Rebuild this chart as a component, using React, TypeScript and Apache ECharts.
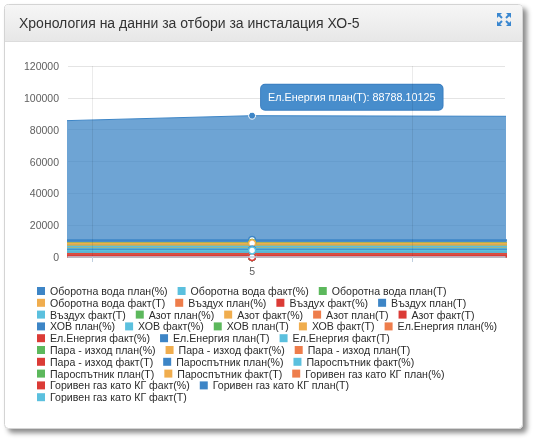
import React, { useEffect, useRef } from "react";
import * as echarts from "echarts";

// x positions of the data points (only "5" is labelled on the axis)
const xPositions = [4, 5, 6];
const labelledX = [5];
const tickX = [4.5, 5.5];

const seriesNames = [
  "Оборотна вода план(%)", "Оборотна вода факт(%)", "Оборотна вода план(Т)",
  "Оборотна вода факт(Т)", "Въздух план(%)", "Въздух факт(%)", "Въздух план(Т)",
  "Въздух факт(Т)", "Азот план(%)", "Азот факт(%)", "Азот план(Т)", "Азот факт(Т)",
  "ХОВ план(%)", "ХОВ факт(%)", "ХОВ план(Т)", "ХОВ факт(Т)", "Ел.Енергия план(%)",
  "Ел.Енергия факт(%)", "Ел.Енергия план(Т)", "Ел.Енергия факт(Т)",
  "Пара - изход план(%)", "Пара - изход факт(%)", "Пара - изход план(Т)",
  "Пара - изход факт(Т)", "Пароспътник план(%)", "Пароспътник факт(%)",
  "Пароспътник план(Т)", "Пароспътник факт(Т)", "Горивен газ като КГ план(%)",
  "Горивен газ като КГ факт(%)", "Горивен газ като КГ план(Т)", "Горивен газ като КГ факт(Т)",
];

// values at x = 4, 5, 6 for each series
const seriesValues: number[][] = [
  [98, 98, 98], [96, 96, 96], [8800, 8800, 8800],
  [8600, 8600, 8600], [100, 100, 100], [97, 97, 97], [10700, 10700, 10700],
  [6600, 6600, 6600], [100, 100, 100], [95, 95, 95], [900, 900, 900], [850, 850, 850],
  [100, 100, 100], [94, 94, 94], [8700, 8700, 8700], [8500, 8500, 8500], [100, 100, 100],
  [93, 93, 93], [83400, 88788.10125, 88300], [5300, 5300, 5300],
  [100, 100, 100], [97, 97, 97], [2000, 2000, 2000],
  [1900, 1900, 1900], [100, 100, 100], [96, 96, 96],
  [8800, 8800, 8800], [8600, 8600, 8600], [100, 100, 100],
  [92, 92, 92], [4700, 4700, 4700], [4100, 4100, 4100],
];

const highlightedSeries = "Ел.Енергия план(Т)";
const legendRowSizes = [3, 4, 5, 5, 3, 3, 3, 3, 2, 1];
const yTicks = { min: 0, max: 120000, interval: 20000 };

const palette = ["#3d85c6", "#5bc0de", "#5cb85c", "#f0ad4e", "#ee7d4b", "#db3b36"];
const FONT = "'Liberation Sans', Arial, sans-serif";

function arrowIcon(cx: number, cy: number, color: string) {
  const els: any[] = [];
  const dirs = [[-1, -1], [1, -1], [-1, 1], [1, 1]];
  dirs.forEach(([dx, dy]) => {
    const ox = cx + dx * 7;
    const oy = cy + dy * 6.5;
    els.push({
      type: "polygon",
      shape: { points: [[ox, oy], [ox - dx * 5, oy], [ox, oy - dy * 5]] },
      style: { fill: color },
    });
    els.push({
      type: "line",
      shape: { x1: ox - dx * 2, y1: oy - dy * 2, x2: ox - dx * 5, y2: oy - dy * 5 },
      style: { stroke: color, lineWidth: 2 },
    });
  });
  return els;
}

export default function App() {
  const ref = useRef<HTMLDivElement>(null);
  useEffect(() => {
    if (!ref.current) return;
    const chart = echarts.init(ref.current, undefined, { renderer: "svg" });

    const series = seriesNames.map((name, i) => {
      const color = palette[i % palette.length];
      const isHi = name === highlightedSeries;
      return {
        name,
        type: "line",
        color,
        z: 2,
        lineStyle: { width: isHi ? 1 : 1.5, color },
        areaStyle: { opacity: 0.75, color },
        data: xPositions.map((x, j) => {
          const v = seriesValues[i][j];
          if (labelledX.indexOf(x) < 0) return { value: [x, v], symbol: "none" };
          if (isHi) {
            return {
              value: [x, v],
              symbol: "circle",
              symbolSize: 7,
              itemStyle: { color, borderColor: "#fff", borderWidth: 1 },
              label: {
                show: true,
                position: [13, -27],
                align: "left",
                verticalAlign: "top",
                formatter: (p: any) => `${p.seriesName}: ${p.value[1]}`,
                backgroundColor: "#478dcc",
                borderColor: "#3b7fc1",
                borderWidth: 1,
                borderRadius: 4,
                padding: [6, 7, 6, 7],
                color: "#fff",
                fontSize: 10.8,
                lineHeight: 13,
                fontFamily: FONT,
              },
            };
          }
          return {
            value: [x, v],
            symbol: "circle",
            symbolSize: 7,
            itemStyle: { color: "#fff", borderColor: color, borderWidth: 1.5 },
          };
        }),
      };
    });

    const legends: any[] = [];
    let k = 0;
    legendRowSizes.forEach((n, r) => {
      legends.push({
        data: seriesNames.slice(k, k + n),
        left: 37,
        top: 285 + r * 11.8,
        width: 480,
        orient: "horizontal",
        padding: 0,
        itemGap: 10,
        itemWidth: 8,
        itemHeight: 8,
        icon: "rect",
        selectedMode: false,
        textStyle: { fontSize: 10.6, color: "#2b2b2b", fontFamily: FONT, lineHeight: 12 },
      });
      k += n;
    });

    const headerGradient = new echarts.graphic.LinearGradient(0, 0, 0, 1, [
      { offset: 0, color: "#f6f6f6" },
      { offset: 1, color: "#e7e7e7" },
    ]);

    chart.setOption({
      animation: false,
      title: {
        text: "Хронология на данни за отбори за инсталация ХО-5",
        left: 19,
        top: 16,
        padding: 0,
        textStyle: { fontSize: 14, fontWeight: "normal", color: "#333", fontFamily: FONT },
      },
      graphic: [
        {
          type: "rect",
          z: -10,
          shape: { x: 4.5, y: 4.5, width: 518, height: 424, r: 4 },
          style: {
            fill: "#fff",
            stroke: "#d4d4d4",
            lineWidth: 1,
            shadowBlur: 5,
            shadowOffsetX: 4,
            shadowOffsetY: 4,
            shadowColor: "rgba(0,0,0,0.45)",
          },
        },
        {
          type: "rect",
          z: -9,
          shape: { x: 5, y: 5, width: 517, height: 36, r: [3, 3, 0, 0] },
          style: { fill: headerGradient },
        },
        {
          type: "line",
          z: -9,
          shape: { x1: 5, y1: 41.5, x2: 522, y2: 41.5 },
          style: { stroke: "#dcdcdc", lineWidth: 1 },
        },
        ...arrowIcon(504, 19.5, "#3a87d0"),
      ],
      legend: legends,
      grid: { left: 68, right: 30, top: 66, bottom: 184 },
      xAxis: {
        type: "value",
        z: 3,
        min: 4.425,
        max: 5.79,
        axisLine: { show: true, lineStyle: { color: "#c0d0e0", width: 1.5 } },
        axisTick: { show: true, customValues: tickX, length: 5, lineStyle: { color: "#c0d0e0" } },
        axisLabel: { customValues: labelledX, color: "#606060", fontSize: 10.5, fontFamily: FONT, margin: 8 },
        splitLine: { show: true, lineStyle: { color: "rgba(0,0,0,0.08)" } },
      },
      yAxis: {
        type: "value",
        min: yTicks.min,
        max: yTicks.max,
        interval: yTicks.interval,
        axisLine: { show: false },
        axisTick: { show: false },
        axisLabel: {
          color: "#606060",
          fontSize: 10.5,
          fontFamily: FONT,
          margin: 9,
          formatter: (v: number) => String(v),
        },
        splitLine: { lineStyle: { color: "#e4e4e4" } },
      },
      series,
    });
    return () => chart.dispose();
  }, []);
  return (
    <div
      ref={ref}
      style={{ position: "fixed", left: 0, top: 0, width: 535, height: 441 }}
    />
  );
}
